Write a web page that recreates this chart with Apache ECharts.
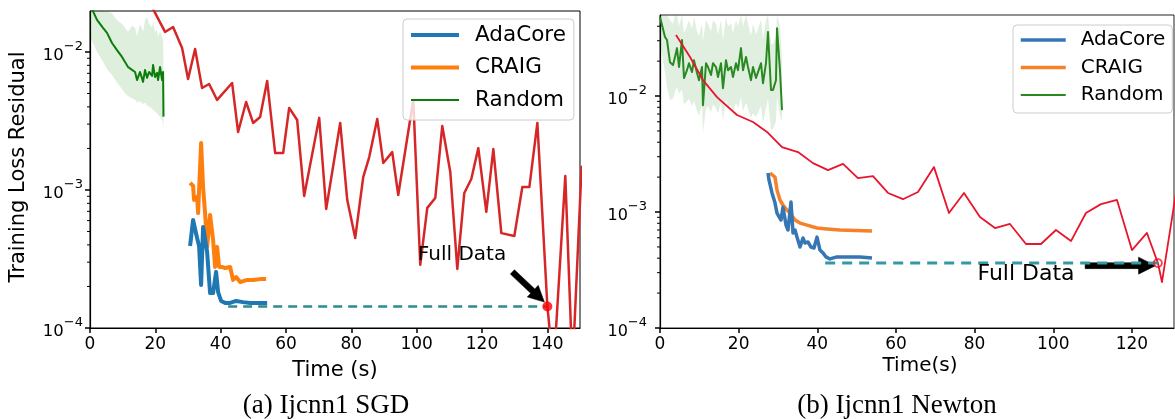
<!DOCTYPE html>
<html><head><meta charset="utf-8">
<script src="https://cdn.jsdelivr.net/npm/echarts@6/dist/echarts.min.js"></script>
<style>html,body{margin:0;padding:0;background:#fff}#c{width:1175px;height:419px}</style>
</head><body><div id="c"></div>
<script>
// ---------- (a) Ijcnn1 SGD ----------
const sgdTimeTicks = [0, 20, 40, 60, 80, 100, 120, 140];
const sgdLossTicks = [1e-4, 1e-3, 1e-2];
const sgdMinorTicks = [2e-4,3e-4,4e-4,5e-4,6e-4,7e-4,8e-4,9e-4,2e-3,3e-3,4e-3,5e-3,6e-3,7e-3,8e-3,9e-3];

const sgdAdaT = [30.64,31.56,32.78,33.39,34.01,34.62,35.85,36.76,37.68,38.60,39.22,40.13,41.36,42.89,44.73,46.88,49.02,51.16,54.23];
const sgdAdaV = [0.000393,0.000607,0.000449,0.000393,0.000205,0.00054,0.000356,0.000179,0.000179,0.000255,0.000182,0.000157,0.000152,0.000152,0.000157,0.000154,0.000152,0.000152,0.000152];

const sgdCraigT = [30.64,31.56,31.86,32.78,33.09,34.01,34.62,35.23,35.85,36.76,37.68,38.30,38.91,39.52,40.44,41.36,42.89,43.81,44.73,45.96,48.10,49.94,52.08,53.92];
const sgdCraigV = [0.001125,0.00107,0.000847,0.00089,0.00068,0.00219,0.00105,0.00068,0.000387,0.00066,0.000435,0.000277,0.000387,0.000277,0.000277,0.000272,0.000277,0.000223,0.000234,0.000215,0.000223,0.000223,0.000226,0.000226];

const sgdRandT = [0,2.14,3.98,5.21,6.74,8.27,9.80,10.72,11.64,12.87,13.79,14.40,15.32,16.24,16.85,17.46,18.08,19.00,19.30,19.91,20.53,20.83,21.45,22.06,22.37,22.5];
const sgdRandV = [0.022,0.01706,0.01493,0.01375,0.01161,0.01032,0.0092,0.00847,0.00778,0.00741,0.00716,0.00626,0.00716,0.00607,0.00741,0.00649,0.00716,0.0067,0.00805,0.00659,0.00705,0.00626,0.00778,0.00626,0.00716,0.0034];
const sgdRandLo = [0.013,0.010,0.0085,0.0075,0.0068,0.006,0.0054,0.005,0.0048,0.0046,0.0045,0.0043,0.0044,0.0042,0.0043,0.0041,0.0040,0.0039,0.0038,0.0037,0.0036,0.0035,0.0034,0.0032,0.0030,0.0026];
const sgdRandHi = [0.03,0.028,0.025,0.022,0.019,0.017,0.016,0.015,0.014,0.0155,0.015,0.013,0.016,0.014,0.017,0.018,0.016,0.015,0.0165,0.014,0.0145,0.013,0.014,0.013,0.012,0.008];

const sgdFullT = [17,22.98,25.43,28.19,30.02,32.17,34.31,36.46,38.91,43.50,45.34,47.79,49.94,52.08,54.23,56.68,59.13,60.97,63.42,65.56,70.16,72.30,76.59,78.74,81.19,83.64,85.48,87.93,89.77,92.52,94.36,98.96,101.10,103.25,105.70,107.84,110.29,112.44,114.58,116.73,118.87,121.32,123.47,125.92,129.90,132.35,134.50,136.95,140.0,141.9,145.5,147.7,150.5];
const sgdFullV = [0.026,0.01396,0.01517,0.01069,0.00637,0.01051,0.00548,0.00586,0.00449,0.00596,0.00263,0.00434,0.00306,0.00338,0.00617,0.00185,0.00185,0.00393,0.00321,0.000906,0.00333,0.000728,0.00306,0.000848,0.000449,0.00124,0.00173,0.00327,0.00157,0.00188,0.00092,0.00449,0.000287,0.000742,0.000875,0.00291,0.00135,0.000268,0.000951,0.0012,0.00201,0.000694,0.00198,0.000487,0.000464,0.00105,0.00105,0.00306,0.000145,0.00005,0.00126,0.00005,0.0015];

const sgdLevelT = [42.3, 140];
const sgdLevelV = [0.000143, 0.000143];
const sgdFullPoint = [140, 0.000143];
const sgdArrowFrom = [129.3, 0.000255];
const sgdArrowTo = [139.1, 0.000154];

// ---------- (b) Ijcnn1 Newton ----------
const newtonTimeTicks = [0, 20, 40, 60, 80, 100, 120];
const newtonLossTicks = [1e-4, 1e-3, 1e-2];
const newtonMinorTicks = [2e-4,3e-4,4e-4,5e-4,6e-4,7e-4,8e-4,9e-4,2e-3,3e-3,4e-3,5e-3,6e-3,7e-3,8e-3,9e-3,2e-2,3e-2,4e-2];

const newtonAdaT = [27.46,27.71,28.48,29.24,29.75,30.77,31.27,32.04,32.55,33.31,33.82,34.33,34.83,35.60,36.36,36.87,37.63,38.39,39.16,39.92,40.68,41.44,42.21,43.22,45.00,47.55,50.85,53.90];
const newtonAdaV = [0.00217,0.00189,0.00146,0.0012,0.00098,0.000853,0.0011,0.000773,0.0007,0.00122,0.00066,0.0007,0.000608,0.000499,0.000597,0.000541,0.000552,0.000499,0.00049,0.000608,0.00047,0.000444,0.00041,0.000394,0.00041,0.00041,0.00041,0.000401];

const newtonCraigT = [27.97,29.24,29.75,30.51,31.27,32.29,33.05,34.33,35.60,37.38,39.92,42.46,45.77,53.90];
const newtonCraigV = [0.00217,0.002,0.00155,0.00127,0.00115,0.00104,0.00098,0.000853,0.000803,0.00077,0.000728,0.000715,0.0007,0.000685];

const newtonRandT = [0,1.27,1.78,2.54,3.31,3.81,4.32,4.83,5.59,6.10,6.86,7.37,8.14,8.64,9.41,9.92,10.68,10.93,11.70,12.20,12.97,13.48,14.24,14.75,15.51,16.02,16.78,17.29,18.05,18.56,19.32,19.83,20.59,21.10,21.87,22.37,23.14,23.65,24.41,24.92,25.68,26.19,26.95,27.46,28.22,28.73,29.49,29.75,30.51,31.02];
const newtonRandV = [0.048,0.0323,0.0304,0.0196,0.0185,0.0217,0.0259,0.0178,0.0304,0.0143,0.0167,0.0192,0.0161,0.0204,0.0158,0.0137,0.0178,0.00835,0.0192,0.0178,0.0152,0.0192,0.0178,0.0146,0.0192,0.0117,0.0204,0.0167,0.0178,0.0146,0.0192,0.0167,0.0259,0.0167,0.0217,0.0178,0.0137,0.0178,0.0143,0.0161,0.0192,0.0129,0.0192,0.0357,0.0113,0.0113,0.0137,0.0385,0.0167,0.00757];
const newtonRandLo = [0.03,0.016,0.012,0.0093,0.0095,0.011,0.012,0.0105,0.0113,0.0085,0.009,0.0095,0.0082,0.009,0.0075,0.0068,0.0085,0.0048,0.0078,0.0082,0.0072,0.0085,0.0078,0.0071,0.0088,0.0062,0.0095,0.008,0.0082,0.0072,0.0088,0.0078,0.0098,0.0074,0.0088,0.0078,0.0065,0.0071,0.0066,0.0072,0.0082,0.0058,0.0078,0.0095,0.0051,0.0052,0.006,0.0098,0.0068,0.006];
const newtonRandHi = [0.07,0.06,0.058,0.045,0.042,0.05,0.055,0.04,0.06,0.035,0.04,0.045,0.038,0.048,0.036,0.033,0.042,0.03,0.045,0.042,0.036,0.045,0.042,0.034,0.045,0.03,0.048,0.04,0.042,0.035,0.045,0.04,0.06,0.04,0.05,0.042,0.033,0.042,0.034,0.038,0.045,0.031,0.045,0.07,0.028,0.028,0.033,0.075,0.04,0.02];

const newtonFullT = [4.07,7.63,10.93,14.49,19.58,23.65,27.21,31.02,35.09,38.90,42.72,46.53,50.34,54.16,57.97,61.78,65.60,69.67,73.48,77.30,81.36,85.18,88.99,93.06,96.87,100.69,104.50,108.31,112.13,116.20,120.01,123.82,126.62,127.64,131.5];
const newtonFullV = [0.0336,0.0217,0.01374,0.00979,0.00686,0.00597,0.0049,0.00363,0.00329,0.00264,0.0023,0.0026,0.00196,0.00204,0.00146,0.00129,0.00149,0.00244,0.00098,0.00146,0.000906,0.000728,0.000789,0.00053,0.00053,0.0007,0.000562,0.00098,0.00117,0.00127,0.00047,0.00066,0.000363,0.000249,0.0017];

const newtonLevelT = [42.0, 126.6];
const newtonLevelV = [0.000363, 0.000363];
const newtonFullPoint = [126.6, 0.000363];
const newtonArrowFrom = [108.1, 0.000345];
const newtonArrowTo = [126.0, 0.000345];

const legendNames = ['AdaCore', 'CRAIG', 'Random'];
const B = ' (b)';

// ---------- build ----------
const FONT = 'DejaVu Sans';
const pairs = (t, v) => t.map((x, i) => [x, v[i]]);

function line(name, gi, t, v, color, width, extra) {
  return Object.assign({
    type: 'line', name, xAxisIndex: gi, yAxisIndex: gi, data: pairs(t, v),
    symbol: 'none', showSymbol: false, silent: true, animation: false,
    lineStyle: { color, width, join: 'round', cap: 'butt' }, itemStyle: { color },
    emphasis: { disabled: true }
  }, extra || {});
}
function band(gi, t, lo, hi, color) {
  return { type: 'custom', name: 'band' + gi, xAxisIndex: gi, yAxisIndex: gi, silent: true, animation: false,
    clip: true, z: 1, data: [[t[0], lo[0]]], encode: { x: 0, y: 1 },
    renderItem: (params, api) => {
      const cs = params.coordSys, top = cs.y, bot = cs.y + cs.height;
      const up = t.map((x, i) => api.coord([x, hi[i]]));
      const dn = t.map((x, i) => api.coord([x, lo[i]])).reverse();
      const pts = up.concat(dn).map(p => [p[0], Math.max(top, Math.min(bot, p[1]))]);
      return { type: 'polygon', shape: { points: pts }, style: { fill: color } };
    } };
}
function minorTicks(gi, xMin, vals, len) {
  return { type: 'custom', name: 'minor' + gi, xAxisIndex: gi, yAxisIndex: gi, silent: true, animation: false,
    clip: false, z: 5, data: vals.map(v => [xMin, v]), encode: { x: 0, y: 1 },
    renderItem: (params, api) => {
      const p = api.coord([api.value(0), api.value(1)]);
      return { type: 'line', shape: { x1: p[0] - len, y1: p[1], x2: p[0], y2: p[1] },
        style: { stroke: '#000', lineWidth: 1 } };
    } };
}
function arrow(gi, from, to, shaft, headW, headL) {
  return { type: 'custom', name: 'arrow' + gi, xAxisIndex: gi, yAxisIndex: gi, silent: true, animation: false,
    clip: false, data: [[from[0], from[1], to[0], to[1]]], encode: { x: [0, 2], y: [1, 3] },
    renderItem: (params, api) => {
      const a = api.coord([api.value(0), api.value(1)]);
      const b = api.coord([api.value(2), api.value(3)]);
      const dx = b[0] - a[0], dy = b[1] - a[1], L = Math.hypot(dx, dy);
      const ux = dx / L, uy = dy / L, nx = -uy, ny = ux;
      const bx = b[0] - ux * headL, by = b[1] - uy * headL;
      const hw = shaft / 2, HW = headW / 2;
      return { type: 'polygon', shape: { points: [
        [a[0] + nx * hw, a[1] + ny * hw], [bx + nx * hw, by + ny * hw], [bx + nx * HW, by + ny * HW],
        [b[0], b[1]], [bx - nx * HW, by - ny * HW], [bx - nx * hw, by - ny * hw], [a[0] - nx * hw, a[1] - ny * hw]
      ] }, style: { fill: '#000', stroke: '#000', lineWidth: 0.5 } };
    } };
}
function yAxisCfg(gi, max, ticks, size, supSize, margin) {
  return { type: 'log', logBase: 10, gridIndex: gi, min: 1e-4, max,
    axisLine: { show: true, onZero: false, lineStyle: { color: '#000', width: 1.2 } },
    axisTick: { show: true, length: 5, customValues: ticks, lineStyle: { color: '#000', width: 1.5 } },
    minorTick: { show: false }, splitLine: { show: false },
    axisLabel: { margin, customValues: ticks, color: '#000',
      formatter: v => {
        const e = Math.log10(v), r = Math.round(e);
        if (Math.abs(e - r) > 1e-6) return '';
        return '{b|10}{s|\u2212' + (-r) + '}';
      },
      rich: {
        b: { fontSize: size, fontFamily: FONT, color: '#000', lineHeight: 24, verticalAlign: 'bottom' },
        s: { fontSize: supSize, fontFamily: FONT, color: '#000', lineHeight: 14, verticalAlign: 'top' }
      } } };
}
function xAxisCfg(gi, max, ticks) {
  return { type: 'value', gridIndex: gi, min: 0, max, interval: 20,
    axisLine: { show: true, onZero: false, lineStyle: { color: '#000', width: 1.2 } },
    axisTick: { show: true, length: 5, customValues: ticks, lineStyle: { color: '#000', width: 1.5 } },
    splitLine: { show: false },
    axisLabel: { margin: 8, customValues: ticks, fontSize: 17, fontFamily: FONT, color: '#000',
      formatter: v => (v % 20 === 0 ? String(v) : '') } };
}
function legendCfg(left, top, names, fmt, w, gap, fs, lh, pad, tpad) {
  return { show: true, orient: 'vertical', left, top, data: names, selectedMode: false,
    itemWidth: w, itemHeight: 14, itemGap: gap, padding: pad, align: 'left',
    backgroundColor: 'rgba(255,255,255,0.8)', borderColor: '#cccccc', borderWidth: 1, borderRadius: 4,
    lineStyle: { width: 'inherit' }, itemStyle: { opacity: 0 }, formatter: fmt,
    textStyle: { fontSize: fs, fontFamily: FONT, color: '#000', lineHeight: lh, padding: tpad } };
}
function txt(x, y, text, size, family, rot) {
  return { type: 'text', x, y, rotation: rot || 0, silent: true, z: 50,
    style: { text, fontSize: size, fontFamily: family || FONT, fill: '#000', align: 'center', verticalAlign: 'middle' } };
}

const series = [
  // panel (a)
  band(0, sgdRandT, sgdRandLo, sgdRandHi, 'rgba(0,128,0,0.13)'),
  line('Random', 0, sgdRandT, sgdRandV, '#0b7d0b', 2),
  line('CRAIG', 0, sgdCraigT, sgdCraigV, '#ff7f0e', 4),
  line('AdaCore', 0, sgdAdaT, sgdAdaV, '#1f77b4', 4),
  line('fullA', 0, sgdFullT, sgdFullV, '#d62728', 2.5),
  line('levelA', 0, sgdLevelT, sgdLevelV, '#2f8b8c', 2.5, { lineStyle: { color: '#2f8b8c', width: 2.5, type: [9, 6] } }),
  arrow(0, sgdArrowFrom, sgdArrowTo, 6, 16, 16),
  { type: 'scatter', name: 'pointA', xAxisIndex: 0, yAxisIndex: 0, data: [sgdFullPoint], symbol: 'circle',
    symbolSize: 10, silent: true, animation: false, itemStyle: { color: '#ff0000' }, z: 3 },
  minorTicks(0, 0, sgdMinorTicks, 3),
  // panel (b)
  band(1, newtonRandT, newtonRandLo, newtonRandHi, 'rgba(34,139,34,0.14)'),
  line('Random' + B, 1, newtonRandT, newtonRandV, '#2a8a22', 2),
  line('CRAIG' + B, 1, newtonCraigT, newtonCraigV, '#f5822a', 3.5),
  line('AdaCore' + B, 1, newtonAdaT, newtonAdaV, '#3776b4', 3.5),
  line('fullB', 1, newtonFullT, newtonFullV, '#e8162c', 1.8),
  arrow(1, newtonArrowFrom, newtonArrowTo, 6, 17, 17),
  line('levelB', 1, newtonLevelT, newtonLevelV, '#3399a3', 3, { lineStyle: { color: '#3399a3', width: 3, type: [10, 7] } }),
  { type: 'scatter', name: 'pointB', xAxisIndex: 1, yAxisIndex: 1, data: [newtonFullPoint], symbol: 'circle',
    symbolSize: 8, silent: true, animation: false, z: 3,
    itemStyle: { color: 'rgba(255,0,0,0)', borderColor: '#ee1122', borderWidth: 1.8 } },
  minorTicks(1, 0, newtonMinorTicks, 3)
];

const option = {
  animation: false,
  backgroundColor: '#ffffff',
  textStyle: { fontFamily: FONT },
  grid: [
    { left: 90, top: 11, width: 490, height: 317, show: true, borderColor: '#000', borderWidth: 1,
      backgroundColor: 'transparent', containLabel: false, outerBoundsMode: 'none' },
    { left: 660, top: 15, width: 514, height: 313, show: true, borderColor: '#222', borderWidth: 1,
      backgroundColor: 'transparent', containLabel: false, outerBoundsMode: 'none' }
  ],
  xAxis: [xAxisCfg(0, 150, sgdTimeTicks), xAxisCfg(1, 130.7, newtonTimeTicks)],
  yAxis: [yAxisCfg(0, 0.0198, sgdLossTicks, 16.5, 13, 7), yAxisCfg(1, 0.05, newtonLossTicks, 16, 13, 13)],
  legend: [
    legendCfg(403, 19, legendNames, n => n, 48, 10.5, 21.5, 22, [5, 8, 9, 6], [0, 0, 0, 11]),
    legendCfg(1013, 25, legendNames.map(n => n + B), n => n.replace(B, ''), 45, 7.5, 20, 20, [5, 7, 8, 6], [0, 0, 0, 10])
  ],
  graphic: [
    txt(19, 167, 'Training Loss Residual', 21, FONT, Math.PI / 2),
    txt(335, 371, 'Time (s)', 21),
    txt(920, 366, 'Time(s)', 20),
    txt(462, 255, 'Full Data', 20),
    txt(1026, 274, 'Full Data', 22),
    txt(326, 406, '(a) Ijcnn1 SGD', 27, 'Liberation Serif'),
    txt(897, 406, '(b) Ijcnn1 Newton', 27, 'Liberation Serif')
  ],
  series
};
const chart = echarts.init(document.getElementById('c'), null, { renderer: 'canvas' });
chart.setOption(option);
</script></body></html>
